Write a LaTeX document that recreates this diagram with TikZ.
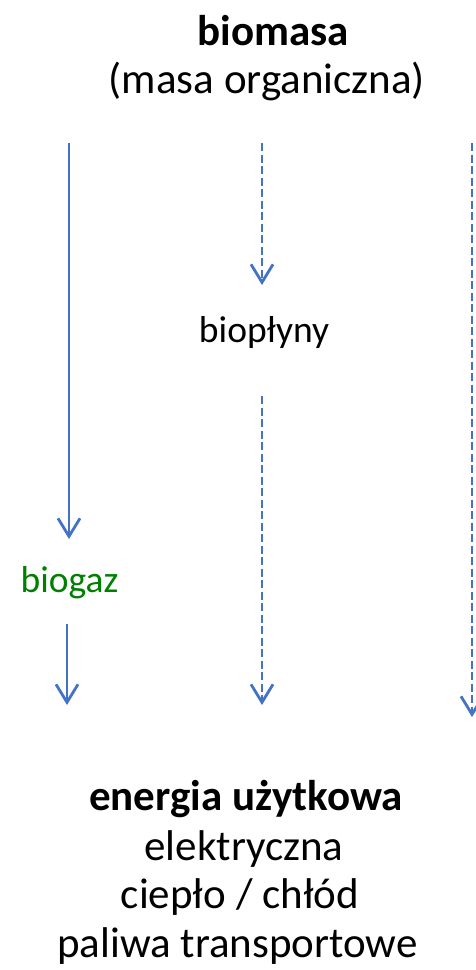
\documentclass[tikz,border=0pt]{standalone}
\usepackage{fontspec}
\setmainfont{Carlito}
\usetikzlibrary{arrows.meta}
\definecolor{arrblue}{HTML}{4472C4}
\definecolor{labgreen}{HTML}{008000}
\tikzset{
  flow/.style={draw=arrblue, line width=2.8pt, -{Straight Barb[length=18pt,width=22pt,line width=2.8pt]}},
  dflow/.style={flow, dash pattern=on 8pt off 3.5pt},
  big/.style={font=\fontsize{43}{50}\selectfont, anchor=base, inner sep=0pt},
  mid/.style={font=\fontsize{37.5}{44}\selectfont, anchor=base, inner sep=0pt},
}
\begin{document}
\begin{tikzpicture}[x=1pt,y=-1pt]
\useasboundingbox (0,0) rectangle (475,970);
\node[big] (t1) at (273,45) {\bfseries biomasa};
\node[big] (t2) at (267,93) {(masa organiczna)};
\node[mid, text=labgreen] (bg) at (69.5,592) {biogaz};
\node[mid] (bp) at (264,342) {biopłyny};
\node[big] (e1) at (246,810) {\bfseries energia użytkowa};
\node[big] (e2) at (244,860) {elektryczna};
\node[big] (e3) at (240,908) {ciepło / chłód};
\node[big] (e4) at (237.5,957) {paliwa transportowe};
\coordinate (a1s) at (69,143); \coordinate (a1e) at (69,539);
\coordinate (a2s) at (67,624); \coordinate (a2e) at (67,705);
\coordinate (m1s) at (262,143); \coordinate (m1e) at (262,285);
\coordinate (m2s) at (262,396); \coordinate (m2e) at (262,705);
\coordinate (r1s) at (472,143); \coordinate (r1e) at (472,717);
\draw[flow] (a1s) -- (a1e);
\draw[flow] (a2s) -- (a2e);
\draw[dflow] (m1s) -- (m1e);
\draw[dflow] (m2s) -- (m2e);
\draw[dflow] (r1s) -- (r1e);
\end{tikzpicture}
\end{document}
